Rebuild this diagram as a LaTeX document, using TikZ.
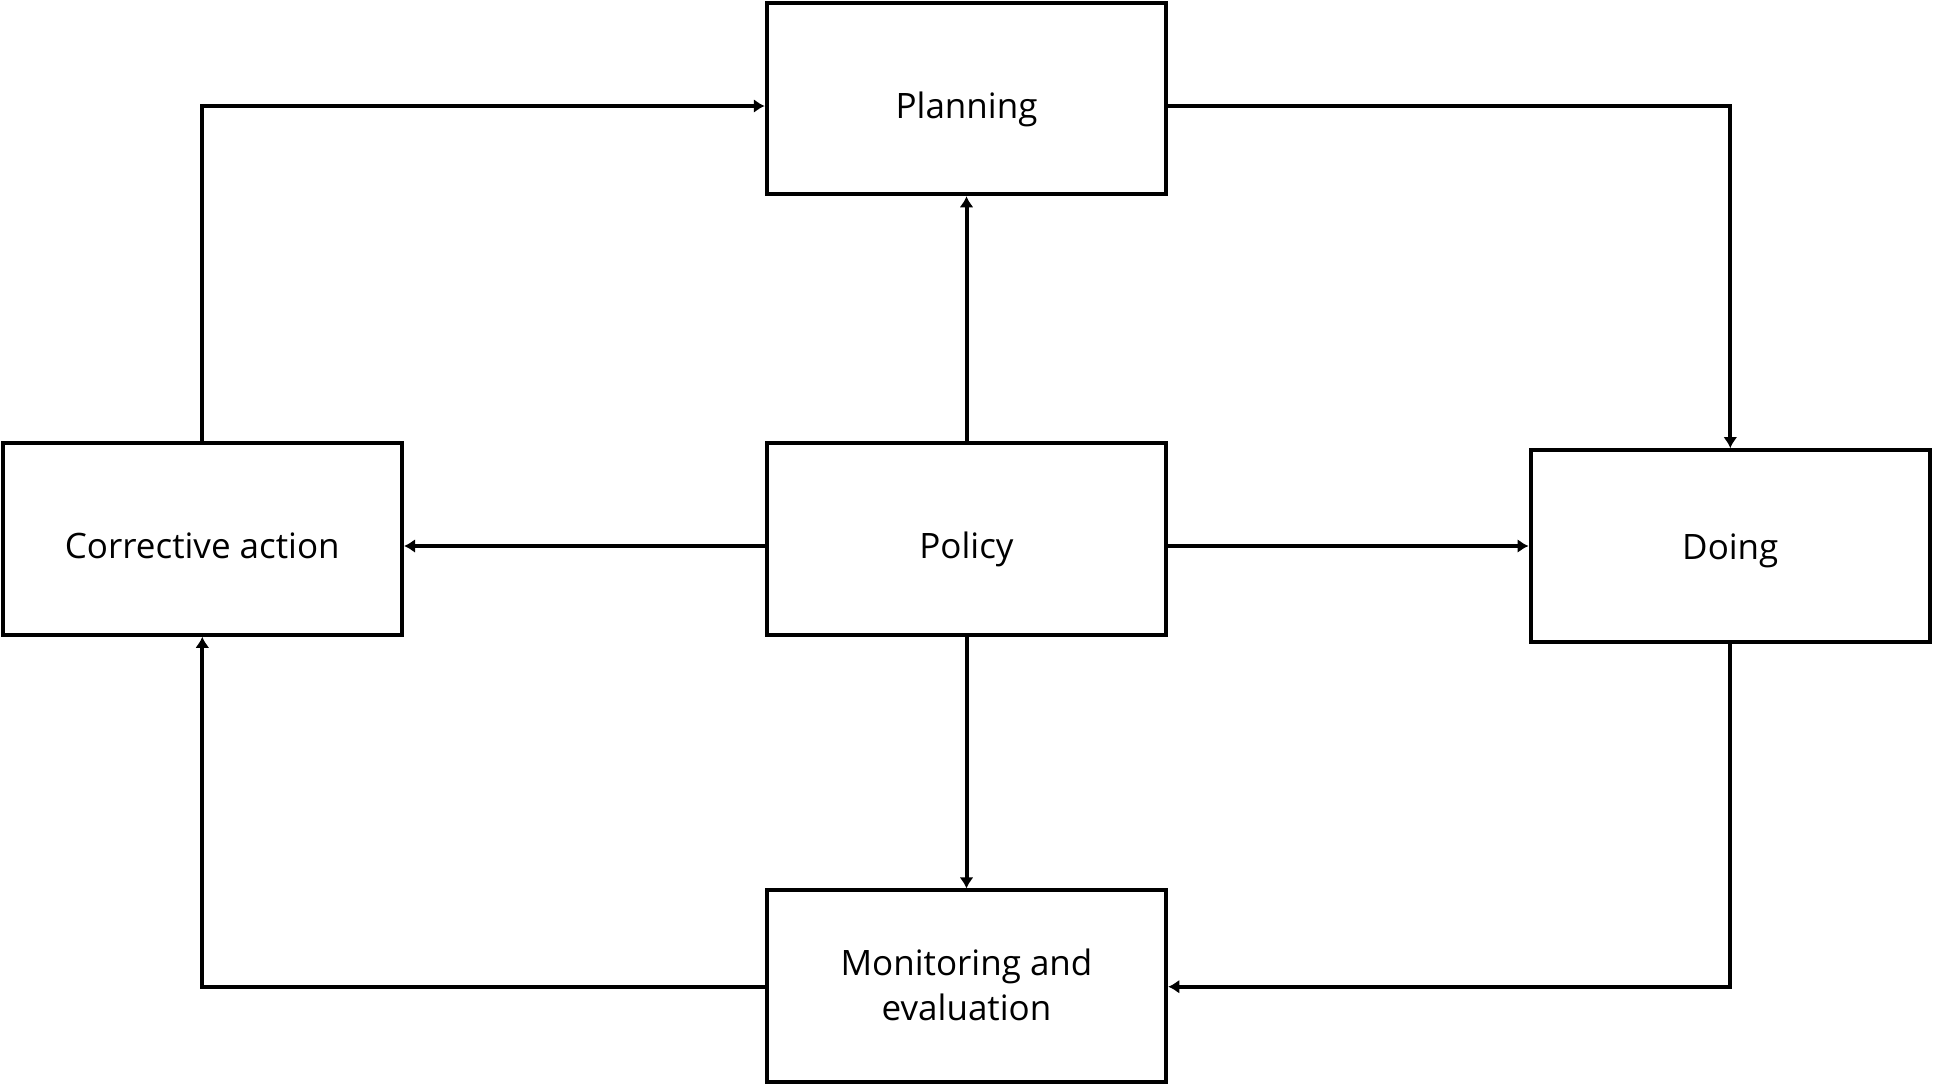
\documentclass[tikz,border=0pt]{standalone}
\usepackage{fontspec}
\setmainfont{Open Sans}
\usetikzlibrary{arrows.meta,calc}
\begin{document}
\begin{tikzpicture}[x=1pt,y=-1pt,
  box/.style={draw=black,line width=4pt,fill=white,rectangle,minimum width=399.5pt,minimum height=191.5pt,inner sep=0pt},
  lbl/.style={inner sep=0pt,font=\fontsize{35pt}{45pt}\selectfont,align=center,text height=25pt,text depth=0pt},
  lbltwo/.style={inner sep=0pt,font=\fontsize{35pt}{45pt}\selectfont,align=center},
  arr/.style={line width=4pt,-{Latex[length=11pt,width=14pt]}},
  ln/.style={line width=4pt}]
\useasboundingbox (0,0) rectangle (1933,1085);
\node[box] (plan) at (966.5,98.5) {};
\node[box] (pol) at (966.5,539) {};
\node[box] (corr) at (202.3,539) {};
\node[box] (doing) at (1730.3,545.9) {};
\node[box] (mon) at (966.5,986.2) {};
\node[lbl] (planT) at (966.5,106) {Planning};
\node[lbl] (polT) at (966.5,546) {Policy};
\node[lbl] (corrT) at (202.3,546) {Corrective action};
\node[lbl] (doingT) at (1730.3,546.5) {Doing};
\node[lbltwo] (monT) at (966.5,984.5) {Monitoring and\\evaluation};
\coordinate (monY) at (966.5,986.7);
\draw[arr] (corr.north) |- (plan.west |- planT.center);
\draw[arr] (plan.east |- planT.center) -| (doing.north);
\draw[arr] (pol.north) -- (plan.south);
\draw[arr] (pol.west |- polT.center) -- (corr.east |- polT.center);
\draw[arr] (pol.east |- polT.center) -- (doing.west |- polT.center);
\draw[arr] (pol.south) -- (mon.north);
\draw[arr] (doing.south) |- (mon.east |- monY);
\draw[arr] (mon.west |- monY) -| (corr.south);
\end{tikzpicture}
\end{document}
